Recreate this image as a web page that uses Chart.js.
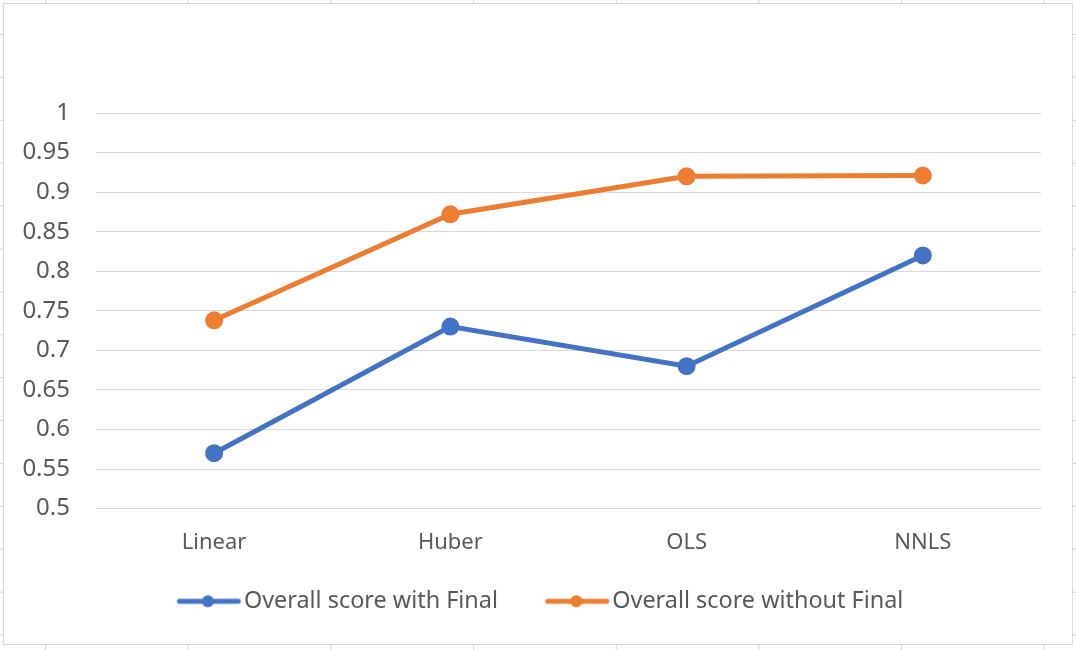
<!DOCTYPE html>
<html>
<head>
<meta charset="utf-8">
<script src="https://cdn.jsdelivr.net/npm/chart.js@4.4.0/dist/chart.umd.min.js"></script>
<style>
  html, body { margin: 0; padding: 0; }
  body {
    width: 1076px; height: 650px; overflow: hidden; position: relative;
    background-color: #fff;
    background-image:
      linear-gradient(to right, #d4d4d4 1px, transparent 1px),
      linear-gradient(to bottom, #d4d4d4 1px, transparent 1px);
    background-size: 142.7px 100%, 100% 42.9px;
    background-position: 45px 0, 0 34px;
  }
  #box {
    position: absolute; left: 4px; top: 4px; width: 1068px; height: 640px;
    background: #fff; box-shadow: 0 0 0 1px #d9d9d9;
  }
</style>
</head>
<body>
<div id="box"><canvas id="scoreChart" width="1068" height="640"></canvas></div>
<script>
  // data
  const models = ['Linear', 'Huber', 'OLS', 'NNLS'];
  const withFinal = [0.57, 0.73, 0.68, 0.82];
  const withoutFinal = [0.738, 0.872, 0.92, 0.921];
  const seriesNames = ['Overall score with Final', 'Overall score without Final'];
  const blue = '#4472C4';
  const orange = '#ED7D31';
  const textGrey = '#595959';
  const legendPad = 12;

  // legend marker: line with a dot, sitting at the right end of a wider canvas
  function legendMarker(color) {
    const c = document.createElement('canvas');
    c.width = 109; c.height = 16;
    const g = c.getContext('2d');
    g.strokeStyle = color;
    g.lineWidth = 5;
    g.lineCap = 'round';
    g.beginPath();
    g.moveTo(47, 8); g.lineTo(106, 8);
    g.stroke();
    g.fillStyle = color;
    g.beginPath();
    g.arc(75.5, 8, 6, 0, Math.PI * 2);
    g.fill();
    return c;
  }

  const ctx = document.getElementById('scoreChart').getContext('2d');
  new Chart(ctx, {
    type: 'line',
    data: {
      labels: models,
      datasets: [
        {
          label: seriesNames[0],
          data: withFinal,
          borderColor: blue,
          backgroundColor: blue,
          borderWidth: 5,
          pointRadius: 6.5,
          pointHoverRadius: 6.5,
          tension: 0
        },
        {
          label: seriesNames[1],
          data: withoutFinal,
          borderColor: orange,
          backgroundColor: orange,
          borderWidth: 5,
          pointRadius: 6.5,
          pointHoverRadius: 6.5,
          tension: 0
        }
      ]
    },
    options: {
      responsive: false,
      animation: false,
      layout: { padding: { left: 0, right: 31, top: 109, bottom: 21 } },
      plugins: {
        tooltip: { enabled: false },
        legend: {
          position: 'bottom',
          labels: {
            usePointStyle: true,
            pointStyleWidth: 90.6,
            padding: legendPad,
            color: textGrey,
            font: { family: 'Noto Sans', size: 23.4 },
            generateLabels(chart) {
              return chart.data.datasets.map((ds, i) => ({
                text: ds.label,
                fontColor: textGrey,
                pointStyle: legendMarker(ds.borderColor),
                strokeStyle: 'transparent',
                fillStyle: 'transparent',
                lineWidth: 0,
                datasetIndex: i
              }));
            }
          }
        }
      },
      scales: {
        x: {
          offset: true,
          afterFit(scale) { scale.height = 69; },
          grid: { display: false, drawTicks: false },
          border: { color: '#d9d9d9' },
          ticks: {
            color: textGrey,
            padding: 21,
            font: { family: 'Noto Sans', size: 22 }
          }
        },
        y: {
          min: 0.5,
          max: 1,
          afterFit(scale) { scale.width = 92; },
          grid: { color: '#d9d9d9', drawTicks: false },
          border: { display: false },
          ticks: {
            stepSize: 0.05,
            padding: 26,
            color: textGrey,
            font: { family: 'Noto Sans', size: 24 },
            callback: v => String(+v.toFixed(2))
          }
        }
      }
    }
  });
</script>
</body>
</html>
